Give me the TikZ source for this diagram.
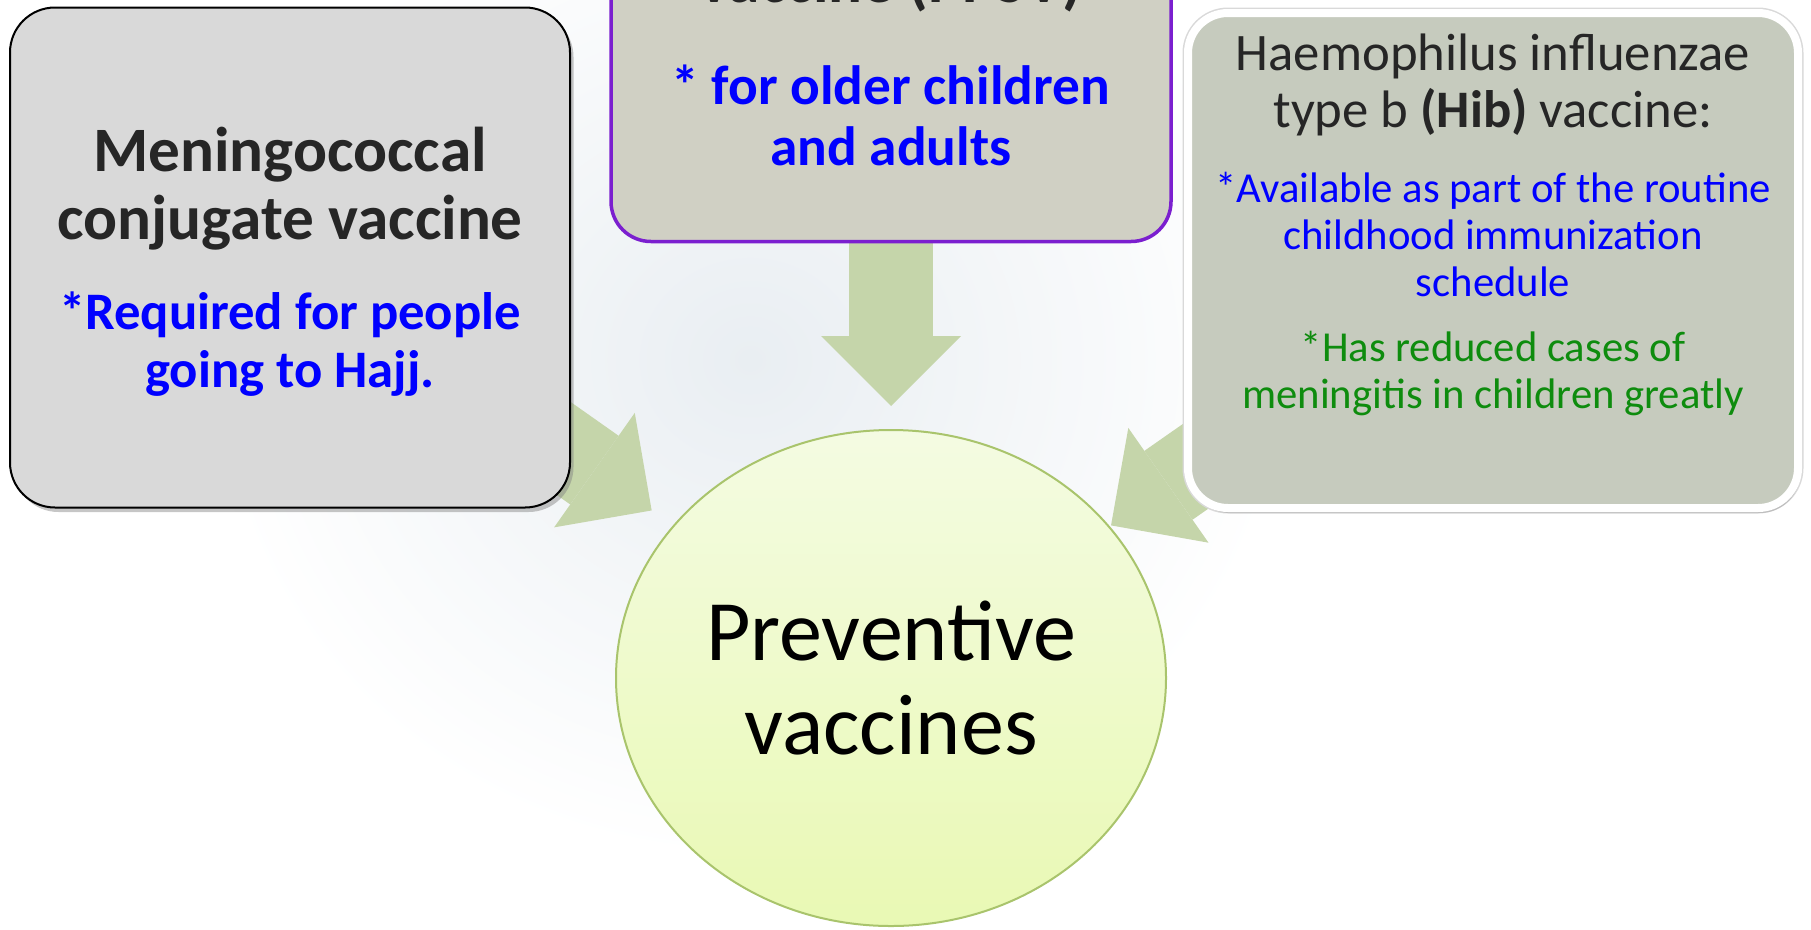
\documentclass[tikz,border=0pt]{standalone}
\usepackage{fontspec}
\setmainfont{Carlito}
\usetikzlibrary{arrows.meta,shapes.geometric,backgrounds,shadows}

\definecolor{inkgray}{HTML}{262626}
\definecolor{noteblue}{HTML}{0000FF}
\definecolor{notegreen}{HTML}{0E8C0E}
\definecolor{cardgray}{HTML}{D9D9D9}
\definecolor{cardsand}{HTML}{D0D0C4}
\definecolor{cardsage}{HTML}{C6CBBE}
\definecolor{cardpurple}{HTML}{7B1FCF}
\definecolor{feedgreen}{HTML}{C5D5AA}
\definecolor{hubtop}{HTML}{F4FBE2}
\definecolor{hubbot}{HTML}{E9F9B4}
\definecolor{hubrim}{HTML}{A9C46C}
\definecolor{haze}{HTML}{E9EEF2}

\begin{document}
\begin{tikzpicture}[
  card/.style={draw,rounded corners=9mm,minimum width=112mm,
               minimum height=100mm,inner sep=0pt},
  mening/.style={card,fill=cardgray,draw=black,line width=0.4mm,
                 drop shadow={shadow xshift=0.7mm,shadow yshift=-0.9mm,
                              opacity=0.45}},
  ppsv/.style={card,fill=cardsand,draw=cardpurple,line width=0.7mm,
               rounded corners=8mm},
  hib/.style={card,fill=cardsage,draw=white,line width=1.6mm,
              rounded corners=8mm,minimum width=122mm,minimum height=99mm,
              preaction={draw=black!15,line width=2.2mm},
              drop shadow={shadow xshift=0.4mm,shadow yshift=-1mm,
                           opacity=0.3}},
  hub/.style={ellipse,draw=hubrim,line width=0.4mm,top color=hubtop,
              bottom color=hubbot,minimum width=110mm,minimum height=99.2mm,
              inner sep=0pt,align=center,
              font=\fontsize{49}{54}\selectfont},
  head/.style={align=center,inner sep=0pt,text=inkgray,
               font=\fontsize{36}{38.7}\selectfont\bfseries},
  note/.style={align=center,inner sep=0pt,text=noteblue,
               font=\fontsize{30}{33}\selectfont\bfseries},
  small/.style={align=center,inner sep=0pt,
                font=\fontsize{24.3}{26.7}\selectfont},
  feed/.style={line width=16.8mm,draw=feedgreen,shorten <=-15mm,
               -{Triangle[length=14mm,width=28mm,line width=0pt]}},
]
\useasboundingbox (0mm,0mm) rectangle (362.2mm,-185.8mm);

% ---- left card: meningococcal ----
\node[mening] (lbox) at (58mm,-51.5mm) {};
\node[head,anchor=north] (lhead) at (58mm,-25.4mm)
     {Meningococcal\\conjugate vaccine};
\node[note,anchor=north] (lnote) at (58mm,-58.2mm)
     {*Required for people\\going to Hajj.};

% ---- middle card, running off the top ----
\node[ppsv] (mbox) at (178.2mm,1.7mm) {};
\node[head,anchor=base] (mhead) at (178.2mm,-0.4mm) {vaccine (PPSV)};
\node[note,anchor=north,font=\fontsize{31.5}{34.7}\selectfont\bfseries]
     (mnote) at (178.2mm,-13mm) {* for older children\\and adults};

% ---- right card: Hib ----
\node[hib] (rbox) at (298.6mm,-52.1mm) {};
\node[small,anchor=north,text=inkgray,font=\fontsize{30}{32.4}\selectfont]
     (rhead) at (298.6mm,-6.8mm)
     {Haemophilus influenzae\\type b \textbf{(Hib)} vaccine:};
\node[small,anchor=north,text=noteblue] (rnote) at (298.6mm,-34.4mm)
     {*Available as part of the routine\\childhood immunization\\schedule};
\node[small,anchor=north,text=notegreen] (rgreen) at (298.6mm,-66.2mm)
     {*Has reduced cases of\\meningitis in children greatly};

% ---- the hub ----
\node[hub] (hub) at (178.2mm,-135.6mm) {Preventive\\vaccines};

% faint backdrop and the three fat arrows, all under the cards
\begin{scope}[on background layer]
  \shade[inner color=haze,outer color=white]
        (150mm,-72mm) ellipse [x radius=108mm,y radius=100mm];
  \draw[feed,shorten >=5.2mm] (lbox) -- (hub);
  \draw[feed,shorten <=-2mm,shorten >=4.6mm] (mbox) -- (hub);
  \draw[feed,shorten >=0.3mm] (rbox) -- (hub);
\end{scope}

\end{tikzpicture}
\end{document}
